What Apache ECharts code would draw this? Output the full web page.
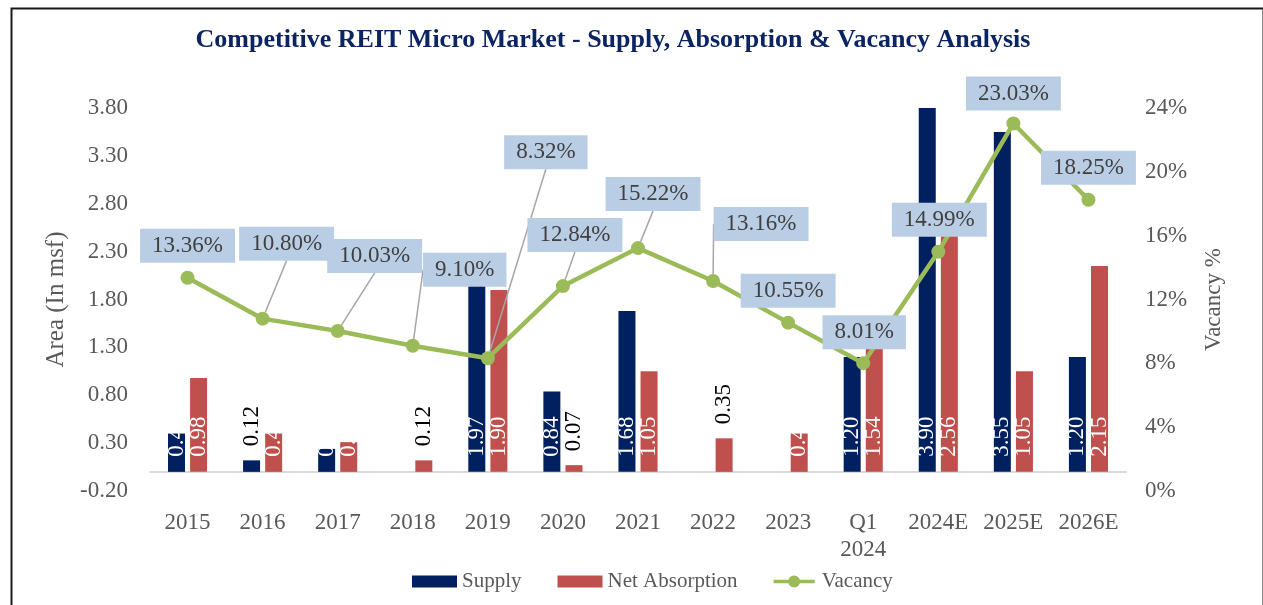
<!DOCTYPE html>
<html>
<head>
<meta charset="utf-8">
<script src="https://cdn.jsdelivr.net/npm/echarts@6/dist/echarts.min.js"></script>
<style>
html,body{margin:0;padding:0;background:#fff;}
#chart{width:1263px;height:605px;}
</style>
</head>
<body>
<div id="chart"></div>
<script>
// ---- data ----
var categories = ['2015','2016','2017','2018','2019','2020','2021','2022','2023','Q1\n2024','2024E','2025E','2026E'];
var supply = [0.40, 0.12, 0.24, null, 1.97, 0.84, 1.68, null, null, 1.20, 3.90, 3.55, 1.20];
var netAbsorption = [0.98, 0.40, 0.31, 0.12, 1.90, 0.07, 1.05, 0.35, 0.40, 1.54, 2.56, 1.05, 2.15];
var vacancy = [13.36, 10.80, 10.03, 9.10, 8.32, 12.84, 15.22, 13.16, 10.55, 8.01, 14.99, 23.03, 18.25];
var areaTicks = {min: -0.2, max: 3.8, interval: 0.5};
var vacancyTicks = {min: 0, max: 24, interval: 4};

// ---- styling / layout helpers (not data) ----
var FONT = 'Liberation Serif';
var supplyOutside = [1];          // indices whose label sits above the bar
var absorptionOutside = [3, 5, 7];
var vacLabelOffsets = [[0,-32],[24,-75],[37,-75],[52,-76],[58,-206],[12,-51],[15,-54],[48,-57],[0,-32],[1,-31],[1,-32],[0,-30],[0,-32]];
var vacLeader = [1,2,3,4,5,6,7];

function barData(values, outside) {
  return values.map(function (v, i) {
    if (v === null) return {value: null};
    var item = {value: v};
    if (outside.indexOf(i) >= 0) {
      item.label = {position: 'top', color: '#000', distance: 14};
    }
    return item;
  });
}
var barLabel = {
  show: true, position: 'insideBottom', distance: 15, rotate: 90,
  align: 'left', verticalAlign: 'middle',
  color: '#fff', fontFamily: FONT, fontSize: 23,
  formatter: function (p) { return p.value == null ? '' : p.value.toFixed(2); }
};

var vacData = vacancy.map(function (v, i) {
  var it = {value: v};
  if (vacLeader.indexOf(i) >= 0) it.labelLine = {show: true};
  return it;
});

var lineMarkerIcon = 'path://M0,5H48V9H0Z M17,7A7,7,0,1,1,31,7A7,7,0,1,1,17,7Z';

var chart = echarts.init(document.getElementById('chart'), null, {renderer: 'canvas'});
chart.setOption({
  animation: false,
  backgroundColor: '#fff',
  title: {
    text: 'Competitive REIT Micro Market - Supply, Absorption & Vacancy Analysis',
    left: 608, top: 22, textAlign: 'center',
    textStyle: {fontFamily: FONT, fontWeight: 'bold', fontSize: 26, color: '#0d2463'}
  },
  graphic: [{
    type: 'rect', left: 9, top: 6, z: 100,
    shape: {width: 1252, height: 700},
    style: {fill: 'none', stroke: '#1a1a1a', lineWidth: 2}
  }],
  legend: {
    left: 412, top: 571, padding: 0, itemWidth: 45, itemHeight: 12, itemGap: 36,
    textStyle: {fontFamily: FONT, fontSize: 21, color: '#595959'},
    data: [{name: 'Supply', icon: 'rect'}, {name: 'Net Absorption', icon: 'rect'},
           {name: 'Vacancy', icon: lineMarkerIcon, itemStyle: {color: '#9bbb59'}}]
  },
  grid: {left: 150, right: 137, top: 108, bottom: 114},
  xAxis: {
    type: 'category', data: categories,
    axisTick: {show: false},
    axisLine: {onZero: true, lineStyle: {color: '#d9d9d9', width: 2}},
    axisLabel: {fontFamily: FONT, fontSize: 23, color: '#595959', margin: 18, lineHeight: 27, interval: 0}
  },
  yAxis: [{
    type: 'value', min: areaTicks.min, max: areaTicks.max, interval: areaTicks.interval,
    name: 'Area (In msf)', nameLocation: 'middle', nameRotate: 90, nameGap: 78,
    nameTextStyle: {fontFamily: FONT, fontSize: 25, color: '#595959'},
    splitLine: {show: false}, axisLine: {show: false}, axisTick: {show: false},
    axisLabel: {fontFamily: FONT, fontSize: 23, color: '#595959', margin: 22,
      formatter: function (v) { return v.toFixed(2); }}
  }, {
    type: 'value', min: vacancyTicks.min, max: vacancyTicks.max, interval: vacancyTicks.interval,
    name: 'Vacancy %', nameLocation: 'middle', nameRotate: 90, nameGap: 76,
    nameTextStyle: {fontFamily: FONT, fontSize: 23, color: '#595959'},
    splitLine: {show: false}, axisLine: {show: false}, axisTick: {show: false},
    axisLabel: {fontFamily: FONT, fontSize: 23, color: '#595959', margin: 19, formatter: '{value}%'}
  }],
  series: [{
    name: 'Supply', type: 'bar', yAxisIndex: 0, barWidth: 17, barGap: '30%',
    itemStyle: {color: '#002060'},
    label: barLabel,
    data: barData(supply, supplyOutside)
  }, {
    name: 'Net Absorption', type: 'bar', yAxisIndex: 0, barWidth: 17, barGap: '30%',
    itemStyle: {color: '#c0504d'},
    label: barLabel,
    data: barData(netAbsorption, absorptionOutside)
  }, {
    name: 'Vacancy', type: 'line', yAxisIndex: 1, z: 5,
    symbol: 'circle', symbolSize: 14,
    lineStyle: {color: '#9bbb59', width: 4.5},
    itemStyle: {color: '#9bbb59'},
    label: {
      show: true, position: 'inside',
      fontFamily: FONT, fontSize: 23, color: '#404040',
      backgroundColor: '#b9cde5', padding: [6, 12, 5, 12],
      formatter: function (p) { return p.value.toFixed(2) + '%'; }
    },
    labelLine: {show: false, lineStyle: {color: '#a6a6a6', width: 1.5}},
    labelLayout: function (p) {
      var o = vacLabelOffsets[p.dataIndex];
      return {dx: o[0], dy: o[1]};
    },
    data: vacData
  }]
});
</script>
</body>
</html>
